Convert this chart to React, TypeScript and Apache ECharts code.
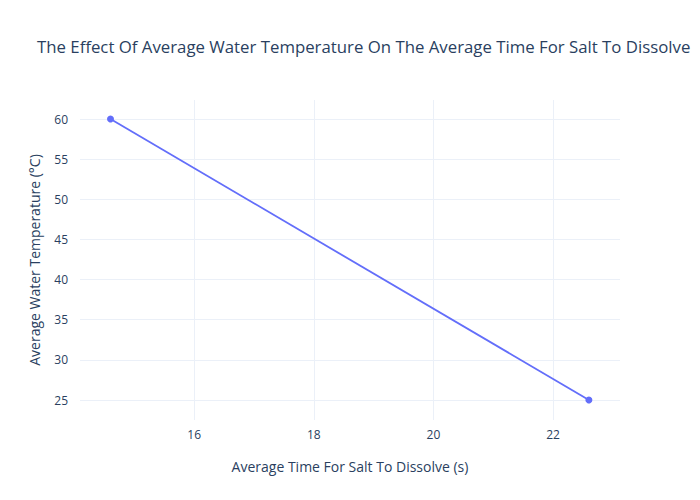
import React, { useEffect, useRef } from "react";
import * as echarts from "echarts";

const timeSeconds = [14.6, 22.6];
const temperatureC = [60, 25];
const xTicks = [16, 18, 20, 22];
const yTicks = [25, 30, 35, 40, 45, 50, 55, 60];

const FONT = "Open Sans";
const TEXT = "#2a3f5f";
const GRID = "#ebf0f8";

export default function App() {
  const ref = useRef<HTMLDivElement>(null);
  useEffect(() => {
    if (!ref.current) return;
    const chart = echarts.init(ref.current, undefined, { renderer: "svg" });
    chart.setOption({
      animation: false,
      backgroundColor: "#ffffff",
      textStyle: { fontFamily: FONT },
      title: {
        text: "The Effect Of Average Water Temperature On The Average Time For Salt To Dissolve",
        left: 32,
        top: 33,
        textStyle: { fontFamily: FONT, fontSize: 16.8, fontWeight: "normal", color: TEXT },
      },
      grid: { left: 80, right: 80, top: 100, bottom: 80 },
      xAxis: {
        type: "value",
        min: 14.09,
        max: 23.12,
        name: "Average Time For Salt To Dissolve (s)",
        nameLocation: "middle",
        nameGap: 39,
        nameTextStyle: { fontFamily: FONT, fontSize: 14, color: TEXT },
        axisLine: { show: false },
        axisTick: { show: false, customValues: xTicks },
        axisLabel: { customValues: xTicks, fontFamily: FONT, fontSize: 12, color: TEXT, margin: 8 },
        splitLine: { show: true, lineStyle: { color: GRID, width: 1 } },
      },
      yAxis: {
        type: "value",
        min: 22.51,
        max: 62.37,
        name: "Average Water Temperature (°C)",
        nameLocation: "middle",
        nameGap: 39,
        nameTextStyle: { fontFamily: FONT, fontSize: 14, color: TEXT },
        axisLine: { show: false },
        axisTick: { show: false, customValues: yTicks },
        axisLabel: { customValues: yTicks, fontFamily: FONT, fontSize: 12, color: TEXT, margin: 12 },
        splitLine: { show: true, lineStyle: { color: GRID, width: 1 } },
      },
      series: [
        {
          type: "line",
          data: timeSeconds.map((t, i) => [t, temperatureC[i]]),
          symbol: "circle",
          symbolSize: 7,
          itemStyle: { color: "#636efa" },
          lineStyle: { color: "#636efa", width: 1.8 },
        },
      ],
    });
    return () => chart.dispose();
  }, []);
  return <div ref={ref} style={{ width: 700, height: 500, margin: -8 }} />;
}
